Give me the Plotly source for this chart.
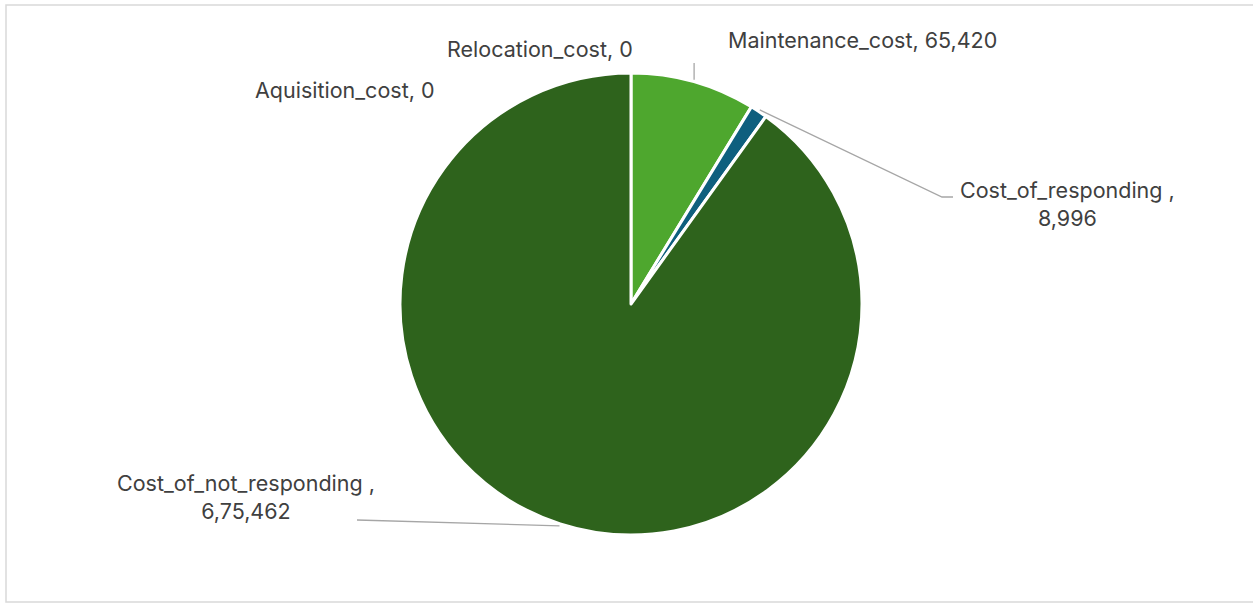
import math
import plotly.graph_objects as go

# Cost breakdown shown as a pie, slices laid out clockwise from 12 o'clock
categories = ["Aquisition_cost", "Relocation_cost", "Maintenance_cost",
              "Cost_of_responding", "Cost_of_not_responding"]
costs = [0, 0, 65420, 8996, 675462]
slice_colors = ["#2E631C", "#2E631C", "#4EA72E", "#0E5F7E", "#2E631C"]

W, H = 1253, 605
CX, CY, R = 631, 304, 231          # pie centre and radius in pixels
TEXT_COLOR = "#404040"
LEADER_COLOR = "#A6A6A6"
FONT = "Inter, 'Open Sans', sans-serif"
FONT_SIZE = 21.5


def indian_format(n):
    """Group digits the Indian way: 675462 -> 6,75,462."""
    s = str(int(n))
    if len(s) <= 3:
        return s
    head, tail = s[:-3], s[-3:]
    parts = []
    while len(head) > 2:
        parts.insert(0, head[-2:])
        head = head[:-2]
    if head:
        parts.insert(0, head)
    return ",".join(parts + [tail])


total = sum(costs)


def mid_angle(i):
    """Clockwise angle from 12 o'clock (degrees) of the middle of slice i."""
    start = sum(costs[:i]) / total * 360
    return start + costs[i] / total * 360 / 2


def edge_point(i, extra=2):
    a = math.radians(mid_angle(i))
    r = R + extra
    return CX + r * math.sin(a), CY - r * math.cos(a)


fig = go.Figure()
fig.add_trace(go.Pie(
    labels=categories,
    values=costs,
    sort=False,
    direction="clockwise",
    rotation=0,
    marker=dict(colors=slice_colors, line=dict(color="white", width=3)),
    textinfo="none",
    hoverinfo="label+value",
    showlegend=False,
    domain=dict(x=[(CX - R) / W, (CX + R) / W],
                y=[1 - (CY + R) / H, 1 - (CY - R) / H]),
))

# Data labels: (category index, centre x, centre y, text)
label_specs = [
    (0, 344, 90, f"{categories[0]}, {indian_format(costs[0])}"),
    (1, 540, 49, f"{categories[1]}, {indian_format(costs[1])}"),
    (2, 862, 40, f"{categories[2]}, {indian_format(costs[2])}"),
    (3, 1067, 204, f"{categories[3]} ,<br>{indian_format(costs[3])}"),
    (4, 246, 497, f"{categories[4]} ,<br>{indian_format(costs[4])}"),
]
annotations = []
for idx, x, y, txt in label_specs:
    annotations.append(dict(
        x=x, y=y, xref="x", yref="y", text=txt, showarrow=False,
        xanchor="center", yanchor="middle", align="center",
        font=dict(family=FONT, size=FONT_SIZE, color=TEXT_COLOR),
    ))

# Leader lines from slice edges to their labels
shapes = []
mx, my = edge_point(2)
shapes.append(dict(type="path", xref="x", yref="y",
                   path=f"M {mx:.1f} {my:.1f} L {mx:.1f} 63",
                   line=dict(color=LEADER_COLOR, width=1.3)))
rx, ry = edge_point(3)
shapes.append(dict(type="path", xref="x", yref="y",
                   path=f"M {rx:.1f} {ry:.1f} L 942 197 L 953 197",
                   line=dict(color=LEADER_COLOR, width=1.3)))
nx, ny = edge_point(4)
shapes.append(dict(type="path", xref="x", yref="y",
                   path=f"M {nx:.1f} {ny:.1f} L 357 520",
                   line=dict(color=LEADER_COLOR, width=1.3)))

# Chart-area border
shapes.append(dict(type="rect", xref="x", yref="y", x0=6, y0=5, x1=1262, y1=602,
                   line=dict(color="#D9D9D9", width=1.5), layer="below"))

fig.update_layout(
    width=W, height=H,
    margin=dict(l=0, r=0, t=0, b=0),
    paper_bgcolor="white", plot_bgcolor="rgba(0,0,0,0)",
    xaxis=dict(range=[0, W], visible=False, fixedrange=True),
    yaxis=dict(range=[H, 0], visible=False, fixedrange=True),
    annotations=annotations,
    shapes=shapes,
)

fig.write_html("out.html")
